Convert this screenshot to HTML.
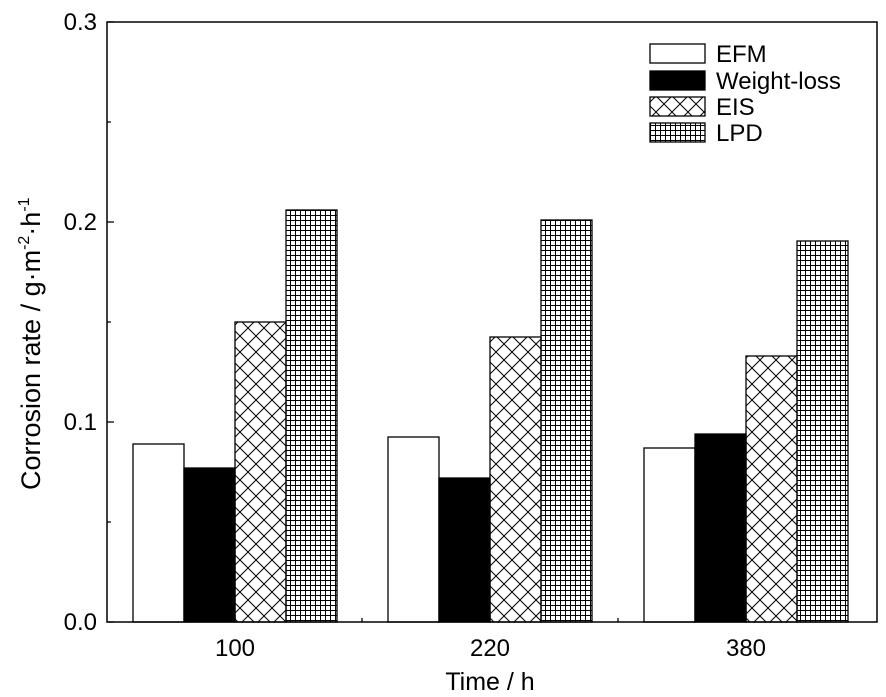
<!DOCTYPE html>
<html><head><style>body{margin:0;background:#fff}</style></head><body>
<svg width="886" height="692" xmlns="http://www.w3.org/2000/svg" font-family="Liberation Sans, Arial, sans-serif">
<defs>
<pattern id="x" width="16" height="16" patternUnits="userSpaceOnUse"><path d="M0 0L16 16M16 0L0 16" stroke="#000" stroke-width="1"/></pattern>
<pattern id="g" width="5" height="5" patternUnits="userSpaceOnUse"><path d="M0 0.5H5M0.5 0V5" stroke="#000" stroke-width="1"/></pattern>
</defs>
<rect width="886" height="692" fill="#fff"/>
<g stroke="#000" stroke-width="1.3">
<rect x="133" y="444" width="51" height="178" fill="#fff"/>
<rect x="184" y="468" width="51" height="154" fill="#000"/>
<rect x="235" y="322" width="51" height="300" fill="url(#x)"/>
<rect x="286" y="210" width="51" height="412" fill="url(#g)"/>
<rect x="388" y="437" width="51" height="185" fill="#fff"/>
<rect x="439" y="478" width="51" height="144" fill="#000"/>
<rect x="490" y="337" width="51" height="285" fill="url(#x)"/>
<rect x="541" y="220" width="51" height="402" fill="url(#g)"/>
<rect x="644" y="448" width="51" height="174" fill="#fff"/>
<rect x="695" y="434" width="51" height="188" fill="#000"/>
<rect x="746" y="356" width="51" height="266" fill="url(#x)"/>
<rect x="797" y="241" width="51" height="381" fill="url(#g)"/>
<rect x="650" y="44" width="55" height="19" fill="#fff"/>
<rect x="650" y="71" width="55" height="19" fill="#000"/>
<rect x="650" y="97" width="55" height="19" fill="url(#x)"/>
<rect x="650" y="123" width="55" height="19" fill="url(#g)"/>
</g>
<rect x="107" y="22" width="770" height="600" fill="none" stroke="#000" stroke-width="1.5"/>
<g stroke="#000" stroke-width="1.3">
<path d="M107 622h7M107 522h4M107 422h7M107 322h4M107 222h7M107 122h4M107 22h7"/>
<path d="M235 622v-7M490 622v-7M746 622v-7M362 622v-4M618 622v-4"/>
</g>
<g font-size="24" fill="#000">
<g text-anchor="end"><text x="97" y="630">0.0</text><text x="97" y="430">0.1</text><text x="97" y="230">0.2</text><text x="97" y="30">0.3</text></g>
<g text-anchor="middle"><text x="235" y="656">100</text><text x="490" y="656">220</text><text x="746" y="656">380</text>
<text x="490" y="690" font-size="25">Time / h</text></g>
<text x="716" y="62">EFM</text><text x="716" y="89">Weight-loss</text><text x="716" y="115">EIS</text><text x="716" y="141">LPD</text>
<text transform="translate(40,490) rotate(-90)" font-size="27">Corrosion rate / g·m<tspan font-size="16" dy="-11">-2</tspan><tspan dy="11">·h</tspan><tspan font-size="16" dy="-11">-1</tspan></text>
</g>
</svg>
</body></html>
